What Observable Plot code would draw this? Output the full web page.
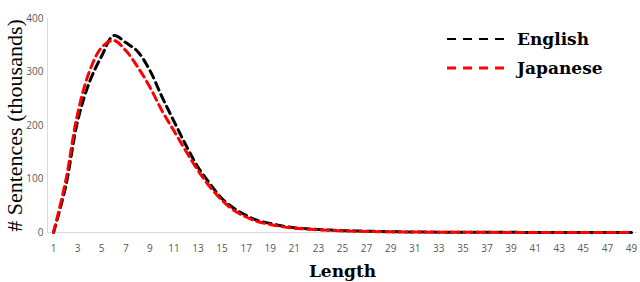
<!DOCTYPE html>
<html>
<head>
<meta charset="utf-8">
<script src="https://cdn.jsdelivr.net/npm/d3@7"></script>
<script src="https://cdn.jsdelivr.net/npm/@observablehq/plot@0.6"></script>
<style>
  html, body { margin: 0; padding: 0; background: #fff; }
  #wrap { position: relative; width: 640px; height: 282px; }
  #legend { position: absolute; left: 447px; top: 24px; font-family: "DejaVu Serif", "Liberation Serif", serif; font-weight: bold; font-size: 17px; color: #000; }
  #legend .row { display: flex; align-items: center; height: 29px; }
  #legend svg { margin-right: 6px; }
</style>
</head>
<body>
<div id="wrap"></div>
<script>
const lengths = d3.range(1, 50);
const english = [0, 85, 208, 282, 330, 368, 355, 338, 303, 254, 208, 163, 122, 91, 63, 45, 32, 22, 17, 12, 9, 7, 5.5, 4.5, 3.5, 3, 2.5, 2, 1.5, 1.2, 1, 0.8, 0.7, 0.6, 0.5, 0.4, 0.4, 0.3, 0.3, 0.2, 0.2, 0.2, 0.2, 0.1, 0.1, 0.1, 0.1, 0.1, 0.1];
const japanese = [0, 95, 222, 302, 346, 359, 340, 309, 272, 228, 190, 152, 116, 85, 60, 41, 29, 20, 15, 11, 8, 6.5, 5, 4, 3, 2.5, 2, 1.5, 1.2, 1, 0.8, 0.6, 0.5, 0.4, 0.4, 0.3, 0.3, 0.2, 0.2, 0.2, 0.1, 0.1, 0.1, 0.1, 0.1, 0.1, 0.1, 0.1, 0.1];
const seriesNames = ["English", "Japanese"];
const seriesColors = ["#000000", "#ff0000"];
const yTicks = [0, 100, 200, 300, 400];
const xTicks = d3.range(1, 50, 2);

const rows = [];
lengths.forEach((l, i) => {
  rows.push({len: l, value: english[i], series: "English"});
  rows.push({len: l, value: japanese[i], series: "Japanese"});
});

const tickFont = "'Open Sans', 'Liberation Sans', sans-serif";
const serif = "'DejaVu Serif', 'Liberation Serif', serif";
const lightSerif = "'Liberation Serif', 'DejaVu Serif', serif";

const chart = Plot.plot({
  width: 640,
  height: 282,
  marginLeft: 47,
  marginRight: 3,
  marginTop: 18,
  marginBottom: 50,
  x: {domain: [0.5, 49.5], label: null},
  y: {domain: [0, 400], label: null},
  color: {domain: seriesNames, range: seriesColors},
  marks: [
    Plot.ruleX([0.5], {stroke: "#d9d9d9", strokeWidth: 1}),
    Plot.ruleY([0], {stroke: "#d9d9d9", strokeWidth: 1}),
    Plot.axisY({ticks: yTicks, tickSize: 0, tickPadding: 4, fontSize: 10, fontFamily: tickFont, color: "#595959", label: null}),
    Plot.axisY({ticks: [], label: "# Sentences (thousands)", labelAnchor: "center", labelArrow: "none", labelOffset: 41, fontSize: 22, fontFamily: lightSerif}),
    Plot.axisX({ticks: xTicks, tickSize: 0, tickPadding: 12, fontSize: 10, fontFamily: tickFont, color: "#595959", label: null}),
    Plot.axisX({ticks: [], label: "Length", labelAnchor: "center", labelArrow: "none", labelOffset: 44, fontSize: 17, fontWeight: "bold", fontFamily: serif}),
    Plot.line(rows.filter(d => d.series === "English"), {x: "len", y: "value", stroke: "series", strokeWidth: 3, strokeDasharray: "8,5", curve: "catmull-rom"}),
    Plot.line(rows.filter(d => d.series === "Japanese"), {x: "len", y: "value", stroke: "series", strokeWidth: 3, strokeDasharray: "8,5", curve: "catmull-rom"})
  ]
});

const wrap = document.getElementById("wrap");
wrap.appendChild(chart);

const legend = document.createElement("div");
legend.id = "legend";
seriesNames.forEach((name, i) => {
  const row = document.createElement("div");
  row.className = "row";
  row.innerHTML = `<svg width="64" height="6"><line x1="0" y1="3" x2="64" y2="3" stroke="${seriesColors[i]}" stroke-width="${i === 0 ? 2 : 3}" stroke-dasharray="9,7"/></svg><span>${name}</span>`;
  legend.appendChild(row);
});
wrap.appendChild(legend);
</script>
</body>
</html>
